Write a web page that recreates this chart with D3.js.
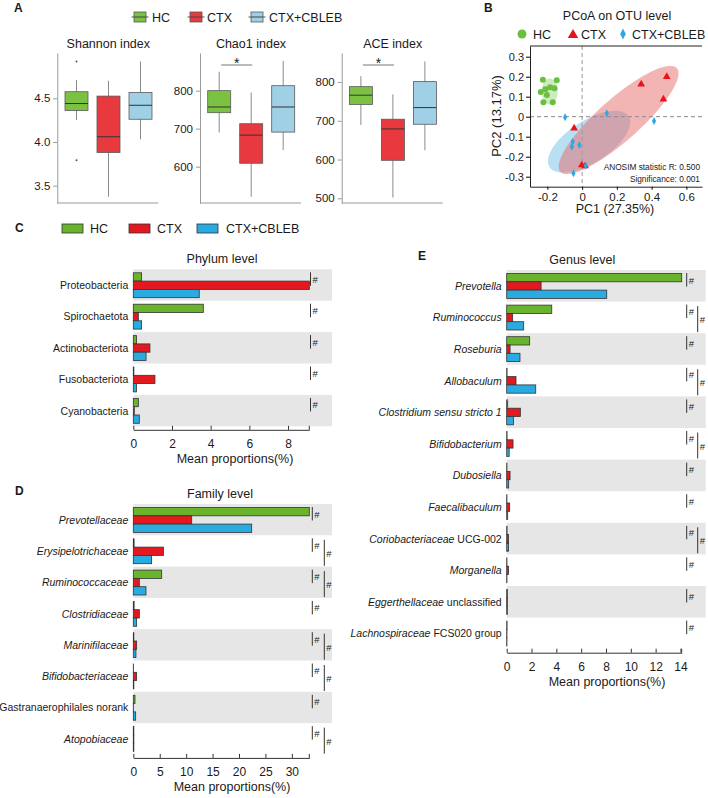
<!DOCTYPE html>
<html><head><meta charset="utf-8">
<script src="https://cdn.jsdelivr.net/npm/d3@7"></script>
<style>
body{margin:0;background:#fff}
text{font-family:"Liberation Sans",Arial,sans-serif;fill:#1a1a1a;white-space:pre}
</style>
</head><body><svg id="c" width="708" height="798"></svg>
<script>
// ---------------- DATA ----------------
const groups = ["HC", "CTX", "CTX+CBLEB"];
// box stats: [lower whisker, Q1, median, Q3, upper whisker]
const shannonHC = [4.25, 4.36, 4.44, 4.575, 4.71];
const shannonCTX = [3.375, 3.88, 4.06, 4.525, 4.70];
const shannonCBLEB = [4.03, 4.26, 4.42, 4.566, 4.92];
const shannonOutliers = [[4.92, 3.79], [], []];
const chao1HC = [690, 742, 757, 800, 850];
const chao1CTX = [521, 609, 683, 713, 795];
const chao1CBLEB = [644, 691, 757, 813, 878];
const aceHC = [689, 742, 766, 788, 815];
const aceCTX = [502, 598, 679, 704, 768];
const aceCBLEB = [624, 691, 734, 801, 853];
const shannonTicks = [3.5, 4.0, 4.5];
const chao1Ticks = [600, 700, 800];
const aceTicks = [500, 600, 700, 800];

// PCoA points [PC1, PC2]
const pcoaHC = [[-0.226,0.185],[-0.146,0.182],[-0.184,0.147],[-0.159,0.142],[-0.211,0.137],[-0.238,0.123],[-0.203,0.108],[-0.223,0.072],[-0.169,0.072]];
const pcoaCTX = [[0.340,0.162],[0.487,0.200],[0.468,0.087],[-0.046,-0.058],[-0.002,-0.242],[0.017,-0.247]];
const pcoaCBLEB = [[-0.098,-0.003],[0.142,0.017],[0.414,-0.021],[-0.054,-0.125],[-0.059,-0.150],[-0.016,-0.141],[0.021,-0.245],[-0.050,-0.283]];
// ellipses: center, major-axis vector, minor-axis vector (data units)
const ellipseHC = {c:[-0.187,0.126], u:[0.046,0], v:[0,0.065]};
const ellipseCTX = {c:[0.210,-0.0165], u:[0.3356,0.259], v:[0.0802,-0.0785]};
const ellipseCBLEB = {c:[0.040,-0.125], u:[0.2275,0.127], v:[0.065,-0.0884]};
const pcoaXTicks = [-0.2, 0, 0.2, 0.4, 0.6];
const pcoaYTicks = [-0.3, -0.2, -0.1, 0, 0.1, 0.2, 0.3];

// Phylum level
const phylumCats = ["Proteobacteria","Spirochaetota","Actinobacteriota","Fusobacteriota","Cyanobacteria"];
const phylumHC = [0.43, 3.62, 0.17, 0.03, 0.26];
const phylumCTX = [9.10, 0.26, 0.86, 1.12, 0.05];
const phylumCBLEB = [3.41, 0.43, 0.66, 0.17, 0.31];
const phylumSig1 = [1,1,1,1,1];
const phylumSig2 = [0,0,0,0,0];
const phylumTicks = [0,2,4,6,8];

// Family level
const familyCats = ["*Prevotellaceae*","*Erysipelotrichaceae*","*Ruminococcaceae*","*Clostridiaceae*","*Marinifilaceae*","*Bifidobacteriaceae*","Gastranaerophilales norank","*Atopobiaceae*"];
const familyHC = [33.3, 0.15, 5.37, 0.15, 0.10, 0.05, 0.32, 0.10];
const familyCTX = [11.05, 5.70, 1.14, 1.14, 0.63, 0.63, 0.03, 0.10];
const familyCBLEB = [22.4, 3.47, 2.40, 0.63, 0.50, 0.10, 0.45, 0.10];
const familySig1 = [1,1,1,1,1,1,1,1];
const familySig2 = [0,1,1,0,1,1,0,1];
const familyTicks = [0,5,10,15,20,25,30];

// Genus level
const genusCats = ["*Prevotella*","*Ruminococcus*","*Roseburia*","*Allobaculum*","*Clostridium sensu stricto 1*","*Bifidobacterium*","*Dubosiella*","*Faecalibaculum*","*Coriobacteriaceae* UCG-002","*Morganella*","*Eggerthellaceae* unclassified","*Lachnospiraceae* FCS020 group"];
const genusHC = [14.1, 3.63, 1.85, 0.03, 0.08, 0.03, 0.02, 0.02, 0.03, 0.02, 0.05, 0.03];
const genusCTX = [2.77, 0.48, 0.27, 0.75, 1.10, 0.51, 0.27, 0.24, 0.15, 0.14, 0.05, 0.02];
const genusCBLEB = [8.06, 1.37, 1.07, 2.34, 0.54, 0.20, 0.16, 0.08, 0.15, 0.02, 0.05, 0.02];
const genusSig1 = [1,1,1,1,1,1,1,1,1,1,1,1];
const genusSig2 = [0,1,0,1,0,1,0,0,1,0,0,0];
const genusTicks = [0,2,4,6,8,10,12,14];

// ---------------- DRAW ----------------
const svg = d3.select("#c");
const boxFill = ["#7cc242", "#e8393f", "#9fd0e6"];
const barFill = ["#6ab42d", "#e3191f", "#29aae1"];
const ptFill = ["#6abf3f", "#e8141c", "#2ea8e0"];
const fmt1 = d => d === 0 ? "0" : d.toFixed(1);

function panelLabel(t, x, y) {
  svg.append("text").attr("x", x).attr("y", y).attr("font-size", 12).attr("font-weight", "bold").text(t);
}
panelLabel("A", 14, 11.7);
panelLabel("B", 484, 11.7);
panelLabel("C", 15, 231.7);
panelLabel("D", 15, 495);
panelLabel("E", 418, 260);

// ----- Panel A legend -----
const legAX = [134, 190, 251];
const legATX = [152, 207, 269];
groups.forEach((gname, i) => {
  svg.append("line").attr("x1", legAX[i] - 2.5).attr("x2", legAX[i] + 14.5).attr("y1", 17).attr("y2", 17).attr("stroke", "#555");
  svg.append("rect").attr("x", legAX[i]).attr("y", 12).attr("width", 12).attr("height", 10)
    .attr("fill", boxFill[i]).attr("stroke", "#555").attr("stroke-width", 0.8);
  svg.append("line").attr("x1", legAX[i]).attr("x2", legAX[i] + 12).attr("y1", 17).attr("y2", 17).attr("stroke", "#444");
  svg.append("text").attr("x", legATX[i]).attr("y", 22).attr("font-size", 12.5).text(gname);
});

function boxPlot(cfg) {
  const y = d3.scaleLinear().domain(cfg.domain).range([203, 53]);
  const x = d3.scalePoint().domain(groups).range([cfg.ax + 19.2, cfg.ax + 83.2]);
  const g = svg.append("g");
  g.append("g").attr("transform", `translate(${cfg.ax},0)`)
    .call(d3.axisLeft(y).tickValues(cfg.ticks).tickFormat(cfg.fmt).tickSize(4).tickSizeOuter(0).tickPadding(3))
    .call(s => {
      s.select(".domain").attr("stroke", "#999");
      s.selectAll(".tick line").attr("stroke", "#999");
      s.selectAll(".tick text").attr("font-size", 11.5).attr("fill", "#333").attr("font-family", null);
    });
  g.append("line").attr("x1", cfg.ax).attr("x2", cfg.ax + 101).attr("y1", 203).attr("y2", 203).attr("stroke", "#999");
  g.append("text").attr("x", cfg.ax + 51).attr("y", 48.3).attr("text-anchor", "middle").attr("font-size", 12.5).text(cfg.title);
  cfg.stats.forEach((st, i) => {
    const cx = x(groups[i]);
    g.append("line").attr("x1", cx).attr("x2", cx).attr("y1", y(st[0])).attr("y2", y(st[4])).attr("stroke", "#8a8a8a");
    g.append("rect").attr("x", cx - 11.5).attr("width", 23).attr("y", y(st[3])).attr("height", y(st[1]) - y(st[3]))
      .attr("fill", boxFill[i]).attr("stroke", "#5a5a5a").attr("stroke-width", 0.8);
    g.append("line").attr("x1", cx - 11.5).attr("x2", cx + 11.5).attr("y1", y(st[2])).attr("y2", y(st[2])).attr("stroke", "#333").attr("stroke-width", 1);
    (cfg.outliers ? cfg.outliers[i] : []).forEach(o => {
      g.append("circle").attr("cx", cx).attr("cy", y(o)).attr("r", 1).attr("fill", "#555");
    });
  });
  if (cfg.sig) {
    const x1 = x(groups[0]) + 2, x2 = x(groups[1]) + 1;
    g.append("line").attr("x1", x1).attr("x2", x2).attr("y1", 65).attr("y2", 65).attr("stroke", "#777");
    g.append("text").attr("x", (x1 + x2) / 2).attr("y", 68).attr("text-anchor", "middle").attr("font-size", 14).text("*");
  }
}
boxPlot({ax: 57.3, domain: [3.302, 5.018], ticks: shannonTicks, fmt: fmt1, title: "Shannon index",
  stats: [shannonHC, shannonCTX, shannonCBLEB], outliers: shannonOutliers});
boxPlot({ax: 200, domain: [504.5, 899], ticks: chao1Ticks, fmt: d3.format("d"), title: "Chao1 index",
  stats: [chao1HC, chao1CTX, chao1CBLEB], sig: true});
boxPlot({ax: 341.7, domain: [487.9, 874.8], ticks: aceTicks, fmt: d3.format("d"), title: "ACE index",
  stats: [aceHC, aceCTX, aceCBLEB], sig: true});

// ----- Panel B -----
(function () {
  const x = d3.scaleLinear().domain([-0.3, 0.69]).range([530, 702]);
  const y = d3.scaleLinear().domain([-0.35, 0.3535]).range([186.7, 46]);
  const g = svg.append("g");
  g.append("text").attr("x", 617).attr("y", 20).attr("text-anchor", "middle").attr("font-size", 12.5).text("PCoA on OTU level");
  // legend
  g.append("circle").attr("cx", 522).attr("cy", 34).attr("r", 4.5).attr("fill", ptFill[0]);
  g.append("text").attr("x", 533).attr("y", 38.5).attr("font-size", 12.5).text("HC");
  g.append("path").attr("d", d3.symbol(d3.symbolTriangle, 48)()).attr("transform", "translate(573,35)").attr("fill", ptFill[1]);
  g.append("text").attr("x", 581).attr("y", 38.5).attr("font-size", 12.5).text("CTX");
  g.append("path").attr("d", "M0,-5.5L2.8,0L0,5.5L-2.8,0Z").attr("transform", "translate(623,34)").attr("fill", ptFill[2]);
  g.append("text").attr("x", 632).attr("y", 38.5).attr("font-size", 12.5).text("CTX+CBLEB");

  function ell(e) {
    const pts = d3.range(0, 361, 4).map(a => {
      const t = a * Math.PI / 180;
      return [x(e.c[0] + Math.cos(t) * e.u[0] + Math.sin(t) * e.v[0]), y(e.c[1] + Math.cos(t) * e.u[1] + Math.sin(t) * e.v[1])];
    });
    return d3.line()(pts) + "Z";
  }
  g.append("path").attr("d", ell(ellipseCBLEB)).attr("fill", "#8ccbea").attr("opacity", 0.62);
  g.append("path").attr("d", ell(ellipseCTX)).attr("fill", "#e86a6a").attr("opacity", 0.5);
  g.append("path").attr("d", ell(ellipseHC)).attr("fill", "#a6d88a").attr("opacity", 0.55);

  g.append("line").attr("x1", x(0)).attr("x2", x(0)).attr("y1", 46).attr("y2", 186.7).attr("stroke", "#9a9a9a").attr("stroke-dasharray", "4,3");
  g.append("line").attr("x1", 530).attr("x2", 702).attr("y1", y(0)).attr("y2", y(0)).attr("stroke", "#8a8a8a").attr("stroke-dasharray", "4,3");

  g.selectAll(null).data(pcoaHC).join("circle").attr("cx", d => x(d[0])).attr("cy", d => y(d[1])).attr("r", 3).attr("fill", ptFill[0]);
  g.selectAll(null).data(pcoaCTX).join("path").attr("d", d3.symbol(d3.symbolTriangle, 26)()).attr("transform", d => `translate(${x(d[0])},${y(d[1])})`).attr("fill", ptFill[1]);
  g.selectAll(null).data(pcoaCBLEB).join("path").attr("d", "M0,-4L2.1,0L0,4L-2.1,0Z").attr("transform", d => `translate(${x(d[0])},${y(d[1])})`).attr("fill", ptFill[2]);

  g.append("line").attr("x1", 530).attr("x2", 702).attr("y1", 46).attr("y2", 46).attr("stroke", "#222");
  g.append("g").attr("transform", "translate(530,0)")
    .call(d3.axisLeft(y).tickValues(pcoaYTicks).tickFormat(fmt1).tickSize(4).tickSizeOuter(0).tickPadding(2))
    .call(s => { s.select(".domain").attr("stroke", "#222"); s.selectAll(".tick text").attr("font-size", 11).attr("fill", "#333").attr("font-family", null); });
  g.append("g").attr("transform", "translate(0,186.7)")
    .call(d3.axisBottom(x).tickValues(pcoaXTicks).tickFormat(fmt1).tickSize(3).tickSizeOuter(0).tickPadding(3))
    .call(s => { s.select(".domain").attr("stroke", "#222"); s.selectAll(".tick text").attr("font-size", 11.5).attr("fill", "#333").attr("font-family", null); });
  g.append("text").attr("x", 615).attr("y", 213).attr("text-anchor", "middle").attr("font-size", 12.5).text("PC1 (27.35%)");
  g.append("text").attr("transform", "translate(501,116) rotate(-90)").attr("text-anchor", "middle").attr("font-size", 13).text("PC2 (13.17%)");
  g.append("text").attr("x", 700).attr("y", 170).attr("text-anchor", "end").attr("font-size", 8.3).text("ANOSIM statistic R: 0.500");
  g.append("text").attr("x", 700).attr("y", 181.5).attr("text-anchor", "end").attr("font-size", 8.3).text("Significance: 0.001");
})();

// ----- Panel C legend -----
const legCX = [62, 129, 197], legCTX = [90, 157, 226];
groups.forEach((gname, i) => {
  svg.append("rect").attr("x", legCX[i]).attr("y", 224).attr("width", 21).attr("height", 9).attr("fill", barFill[i]).attr("stroke", "#333").attr("stroke-width", 0.8);
  svg.append("text").attr("x", legCTX[i]).attr("y", 232.7).attr("font-size", 12.5).text(gname);
});

function barPanel(cfg) {
  const n = cfg.cats.length;
  const x = d3.scaleLinear().domain([0, cfg.max]).range([cfg.x0, cfg.x1]);
  const y = d3.scaleBand().domain(d3.range(n)).range([cfg.top, cfg.top + n * cfg.rowH]);
  const inner = d3.scaleBand().domain([0, 1, 2]).range([3.5, 28.4]);
  const g = svg.append("g");
  g.append("text").attr("x", cfg.titleX).attr("y", cfg.top - 6).attr("text-anchor", "middle").attr("font-size", 12.5).text(cfg.title);
  g.selectAll(null).data(d3.range(n).filter(i => i % 2 === 0)).join("rect")
    .attr("x", cfg.x0).attr("y", i => y(i)).attr("width", cfg.bandRight - cfg.x0).attr("height", y.bandwidth()).attr("fill", "#e6e6e6");
  [cfg.hc, cfg.ctx, cfg.cbleb].forEach((vals, s) => {
    g.selectAll(null).data(vals).join("rect")
      .attr("x", x(0)).attr("y", (d, i) => y(i) + inner(s)).attr("width", d => x(d) - x(0)).attr("height", inner.bandwidth())
      .attr("fill", barFill[s]).attr("stroke", "#333").attr("stroke-width", 0.8);
  });
  cfg.cats.forEach((c, i) => {
    const t = g.append("text").attr("x", cfg.x0 - 5).attr("y", y(i) + y.bandwidth() / 2 + 4).attr("text-anchor", "end").attr("font-size", 10.5);
    c.split("*").forEach((seg, k) => { if (seg) t.append("tspan").attr("font-style", k % 2 ? "italic" : "normal").text(seg); });
  });
  d3.range(n).forEach(i => {
    if (cfg.sig1[i]) {
      g.append("line").attr("x1", cfg.s1x).attr("x2", cfg.s1x).attr("y1", y(i) + 3).attr("y2", y(i) + 16.5).attr("stroke", "#333");
      g.append("text").attr("x", cfg.s1x + 2).attr("y", y(i) + 13.5).attr("font-size", 9.5).text("#");
    }
    if (cfg.sig2[i]) {
      g.append("line").attr("x1", cfg.s2x).attr("x2", cfg.s2x).attr("y1", y(i) + 4.5).attr("y2", y(i) + 30.5).attr("stroke", "#333");
      g.append("text").attr("x", cfg.s2x + 2).attr("y", y(i) + 21.5).attr("font-size", 9.5).text("#");
    }
  });
  const axY = cfg.top + n * cfg.rowH + 3.5;
  g.append("g").attr("transform", `translate(0,${axY})`)
    .call(d3.axisBottom(x).tickValues(cfg.ticks).tickFormat(d3.format("d")).tickSize(-4).tickSizeOuter(0).tickPadding(9.5))
    .call(s => { s.select(".domain").attr("stroke", "#333"); s.selectAll(".tick line").attr("stroke", "#333"); s.selectAll(".tick text").attr("font-size", 12).attr("fill", "#222").attr("font-family", null); });
  g.append("line").attr("x1", x(cfg.max)).attr("x2", x(cfg.max)).attr("y1", axY).attr("y2", axY - 4).attr("stroke", "#333");
  g.append("text").attr("x", cfg.axTitleX).attr("y", axY + 33.5).attr("text-anchor", "middle").attr("font-size", 12.5).text("Mean proportions(%)");
}

barPanel({cats: phylumCats, hc: phylumHC, ctx: phylumCTX, cbleb: phylumCBLEB, sig1: phylumSig1, sig2: phylumSig2,
  ticks: phylumTicks, max: 9.1, x0: 133.3, x1: 309.3, top: 269.3, rowH: 31.4, bandRight: 332,
  s1x: 310.5, s2x: 322, title: "Phylum level", titleX: 222, axTitleX: 235});
barPanel({cats: familyCats, hc: familyHC, ctx: familyCTX, cbleb: familyCBLEB, sig1: familySig1, sig2: familySig2,
  ticks: familyTicks, max: 33.3, x0: 133.3, x1: 309.3, top: 504, rowH: 31.3, bandRight: 332,
  s1x: 312.3, s2x: 324.3, title: "Family level", titleX: 220, axTitleX: 232});
barPanel({cats: genusCats, hc: genusHC, ctx: genusCTX, cbleb: genusCBLEB, sig1: genusSig1, sig2: genusSig2,
  ticks: genusTicks, max: 14.1, x0: 506.7, x1: 681.7, top: 270, rowH: 31.6, bandRight: 705.7,
  s1x: 686.7, s2x: 697.7, title: "Genus level", titleX: 582.3, axTitleX: 607});
</script>
</body></html>
